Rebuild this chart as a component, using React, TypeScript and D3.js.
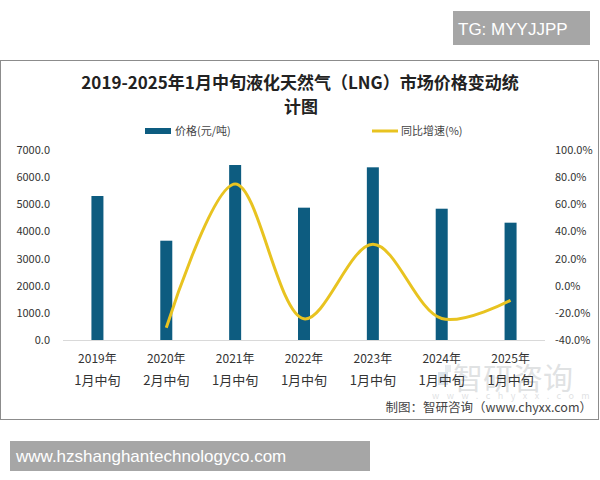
import React from "react";
import * as d3 from "d3";

const categories = ["2019年\n1月中旬", "2020年\n2月中旬", "2021年\n1月中旬", "2022年\n1月中旬", "2023年\n1月中旬", "2024年\n1月中旬", "2025年\n1月中旬"];
const prices = [5305, 3658, 6447, 4875, 6362, 4837, 4322];
const growth: (number | null)[] = [null, -31.0, 75.0, -24.4, 30.5, -24.2, -10.8];
const leftTicks = [0, 1000, 2000, 3000, 4000, 5000, 6000, 7000];
const rightTicks = [-40, -20, 0, 20, 40, 60, 80, 100];

const FONT = "'Noto Sans CJK SC', 'Noto Sans', sans-serif";

export default function App() {
  const W = 600, H = 480;
  const plotL = 63, plotR = 545, plotT = 150, plotB = 340;
  const x = d3.scaleBand<string>().domain(categories).range([plotL, plotR]);
  const yL = d3.scaleLinear().domain([0, 7000]).range([plotB, plotT]);
  const yR = d3.scaleLinear().domain([-40, 100]).range([plotB, plotT]);
  const bw = 12;
  const pts = categories.map((c, i) => ({ c, v: growth[i] })).filter(d => d.v !== null) as { c: string; v: number }[];
  const line = d3.line<{ c: string; v: number }>()
    .x(d => (x(d.c) as number) + x.bandwidth() / 2)
    .y(d => yR(d.v))
    .curve(d3.curveCatmullRom.alpha(0.5));

  return (
    <svg width={W} height={H} style={{ position: "absolute", left: 0, top: 0 }} fontFamily={FONT}>
      <rect x={0} y={0} width={W} height={H} fill="#fff" />
      {/* badge */}
      <rect x={453} y={11} width={137} height={34} fill="#a6a6a6" />
      <text x={458} y={35} fill="#fff" fontSize={17} fontFamily="'Liberation Sans', Arial, sans-serif">TG: MYYJJPP</text>
      {/* frame */}
      <rect x={0.5} y={60.5} width={598} height={359} fill="#fff" stroke="#8c8c8c" strokeWidth={1} />
      {/* title */}
      <text x={300} y={89} textAnchor="middle" fontSize={17} fontWeight="bold" fill="#222">2019-2025年1月中旬液化天然气（LNG）市场价格变动统</text>
      <text x={301} y={113} textAnchor="middle" fontSize={17} fontWeight="bold" fill="#222">计图</text>
      {/* legend */}
      <rect x={145} y={128} width={26} height={6} fill="#0d5c80" />
      <text x={175} y={135} fontSize={11} fill="#444">价格(元/吨)</text>
      <line x1={372} x2={398} y1={131} y2={131} stroke="#e8c320" strokeWidth={3} />
      <text x={401} y={135} fontSize={11} fill="#444">同比增速(%)</text>
      {/* watermark */}
      <g opacity={0.3}>
        <rect x={438} y={372} width={10} height={13} fill="#8fa7c0" />
        <rect x={445} y={365} width={6} height={7} fill="#b8c4d0" />
        <text x={453} y={389} fontSize={30} fill="#9aa0a6">智研咨询</text>
        <text x={432} y={399} fontSize={9} fill="#9aa0a6" letterSpacing={7.5}>www.chyxx.com</text>
      </g>
      {/* left axis */}
      {leftTicks.map(t => (
        <text key={"l" + t} x={50} y={yL(t) + 4} textAnchor="end" fontSize={11} fill="#333">{t.toFixed(1)}</text>
      ))}
      {/* right axis */}
      {rightTicks.map(t => (
        <text key={"r" + t} x={555} y={yR(t) + 4} textAnchor="start" fontSize={11} fill="#333">{t.toFixed(1) + "%"}</text>
      ))}
      {/* baseline */}
      <line x1={plotL} x2={plotR} y1={plotB + 0.5} y2={plotB + 0.5} stroke="#d9d9d9" strokeWidth={1} />
      {/* bars */}
      {categories.map((c, i) => (
        <rect key={c} x={(x(c) as number) + x.bandwidth() / 2 - bw / 2} y={yL(prices[i])} width={bw} height={plotB - yL(prices[i])} fill="#0d5c80" />
      ))}
      {/* line */}
      <path d={line(pts) || ""} fill="none" stroke="#e8c320" strokeWidth={3} />
      {/* x labels */}
      {categories.map(c => {
        const [a, b] = c.split("\n");
        const cx = (x(c) as number) + x.bandwidth() / 2;
        return (
          <g key={"x" + c}>
            <text x={cx} y={363} textAnchor="middle" fontSize={12} fill="#333">{a}</text>
            <text x={cx} y={385} textAnchor="middle" fontSize={13} fill="#333">{b}</text>
          </g>
        );
      })}
      {/* source */}
      <text x={592} y={412} textAnchor="end" fontSize={12.5} fill="#444">制图：智研咨询（www.chyxx.com）</text>
      {/* banner */}
      <rect x={10} y={441} width={360} height={30} fill="#a6a6a6" />
      <text x={16} y={462} fill="#fff" fontSize={17} fontFamily="'Liberation Sans', Arial, sans-serif">www.hzshanghantechnologyco.com</text>
    </svg>
  );
}
